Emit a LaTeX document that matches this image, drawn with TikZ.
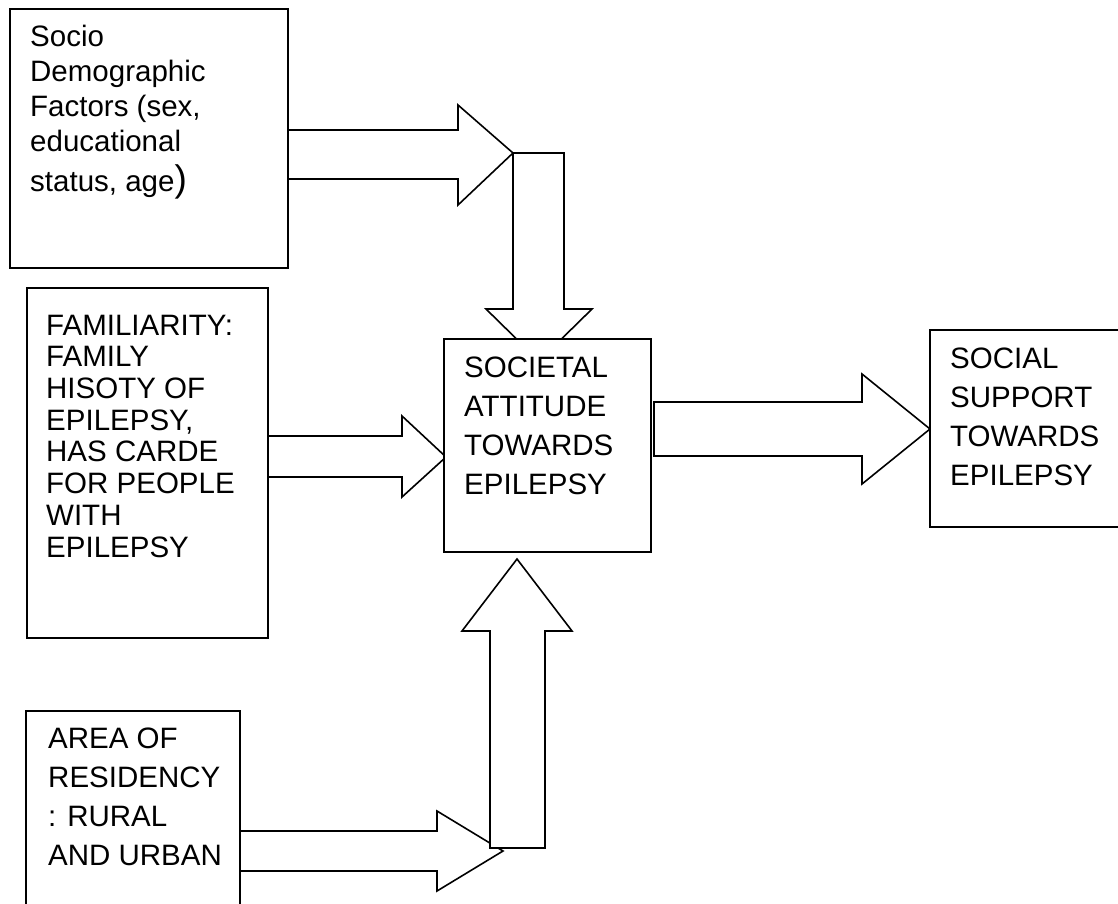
\documentclass[tikz,border=0pt]{standalone}
\usepackage{fontspec}
\setmainfont{Liberation Sans}
\begin{document}
\begin{tikzpicture}[x=1pt,y=-1pt,
  box/.style={draw, line width=1.6pt, fill=white, inner sep=0pt},
  blk/.style={draw, line width=1.6pt, fill=white, line join=miter},
  txt/.style={anchor=base west, inner sep=0pt, align=left}]
\clip (0,0) rectangle (1118,904);
\fill[white] (0,0) rectangle (1118,904);
% block arrows
\draw[blk] (288,130) -- (458,130) -- (458,105) -- (513,153) -- (458,205) -- (458,179) -- (288,179);
\draw[blk] (513,153) -- (564,153) -- (564,309) -- (592,309) -- (539,361) -- (486,309) -- (513,309) -- cycle;
\draw[blk] (268,436) -- (402,436) -- (402,416) -- (446,457) -- (402,497) -- (402,477) -- (268,477);
\draw[blk] (654,456) -- (654,402) -- (862,402) -- (862,374) -- (930,429) -- (862,484) -- (862,456) -- cycle;
\draw[blk] (240,831) -- (437,831) -- (437,811) -- (503,851) -- (437,891) -- (437,871) -- (240,871);
\draw[blk] (490,848) -- (490,631) -- (462,631) -- (517,559) -- (572,631) -- (545,631) -- (545,848) -- cycle;
% boxes
\node[box, minimum width=278pt, minimum height=259pt] (b1) at (149,138.5) {};
\node[box, minimum width=241pt, minimum height=350pt] (b2) at (147.5,463) {};
\node[box, minimum width=214pt, minimum height=220pt] (b3) at (133,821) {};
\node[box, minimum width=207pt, minimum height=213pt] (c) at (547.5,445.5) {};
\node[box, minimum width=200pt, minimum height=197pt] (s) at (1030,428.5) {};
% texts (anchored at the baseline of the last line)
\node[txt, font=\fontsize{29.5}{35}\selectfont] (t1) at (30,192)
  {Socio\\Demographic\\Factors (sex,\\educational\\[5pt]status, age{\fontsize{37}{35}\selectfont)}};
\node[txt, font=\fontsize{29.5}{31.7}\selectfont] (t2) at (46,557)
  {FAMILIARITY:\\FAMILY\\HISOTY OF\\EPILEPSY,\\HAS CARDE\\FOR PEOPLE\\WITH\\EPILEPSY};
\node[txt, font=\fontsize{29.5}{38.7}\selectfont] (t3) at (48,865)
  {AREA OF\\RESIDENCY\\: RURAL\\AND URBAN};
\node[txt, font=\fontsize{29.5}{39}\selectfont] (tc) at (464,494)
  {SOCIETAL\\ATTITUDE\\TOWARDS\\EPILEPSY};
\node[txt, font=\fontsize{29.5}{38.7}\selectfont] (ts) at (950,485)
  {SOCIAL\\SUPPORT\\TOWARDS\\EPILEPSY};
\end{tikzpicture}
\end{document}
